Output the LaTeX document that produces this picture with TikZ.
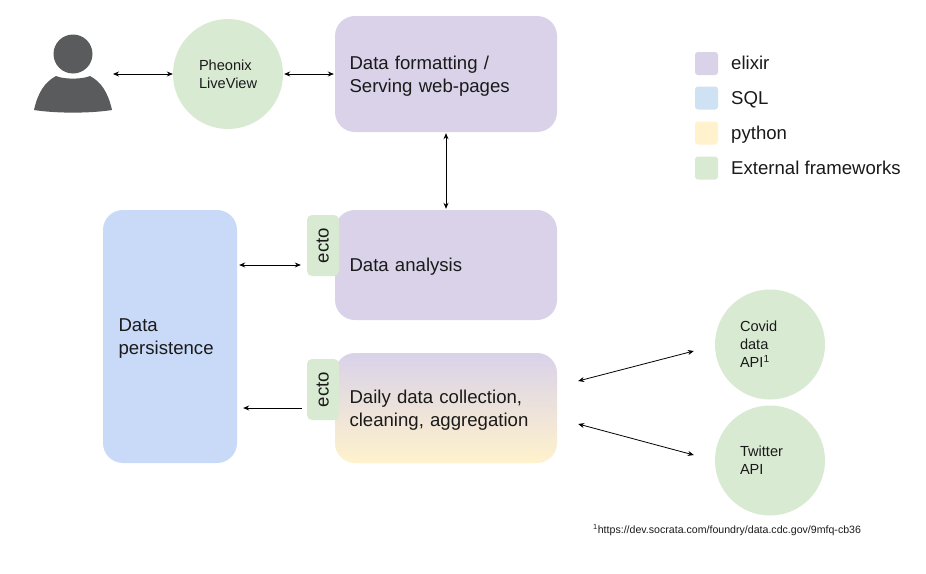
\documentclass[tikz,border=0pt]{standalone}
\usepackage{fontspec}
\setmainfont{Liberation Sans}
\usetikzlibrary{arrows.meta}
\definecolor{elixirc}{HTML}{D9D2E9}
\definecolor{sqlc}{HTML}{C9DAF8}
\definecolor{sqllegend}{HTML}{CFE2F3}
\definecolor{pyc}{HTML}{FFF2CC}
\definecolor{extc}{HTML}{D9EAD3}
\definecolor{personc}{HTML}{595B5C}
\definecolor{txtc}{HTML}{1A1A1A}
\tikzset{
  x=1pt,y=-1pt,
  bigbox/.style={rounded corners=20pt,minimum width=222pt,inner xsep=14.5pt,inner ysep=0pt,
    text width=193pt,align=left,font=\fontsize{18.6}{23}\selectfont,text=txtc,
    execute at begin node=\rule{0pt}{17.5pt}},
  dbbox/.style={rounded corners=20pt,fill=sqlc,minimum width=134pt,minimum height=253pt,inner xsep=15.5pt,inner ysep=0pt,
    text width=103pt,align=left,font=\fontsize{18.6}{23}\selectfont,text=txtc,
    execute at begin node=\rule{0pt}{17.5pt}},
  ectobox/.style={rounded corners=5pt,fill=extc,rotate=90,minimum width=61pt,minimum height=32pt,inner sep=0pt,
    text height=14pt,text depth=3pt,font=\fontsize{18.6}{20}\selectfont,text=txtc},
  circ/.style={circle,fill=extc,minimum size=110pt,inner sep=0pt,align=left,
    font=\fontsize{14.6}{18}\selectfont,text=txtc},
  swatch/.style={rounded corners=3pt,minimum size=23pt,inner sep=0pt},
  legendtxt/.style={anchor=west,inner sep=0pt,text height=13.5pt,text depth=3.5pt,font=\fontsize{18.6}{22}\selectfont,text=txtc},
  conn/.style={black,line width=0.8pt,{Stealth[length=6pt,width=5pt]}-{Stealth[length=6pt,width=5pt]}},
  connone/.style={black,line width=0.8pt,-{Stealth[length=6pt,width=5pt]}},
}
\begin{document}
\begin{tikzpicture}
\useasboundingbox (0,0) rectangle (926,573);
\fill[white] (0,0) rectangle (926,573);
% person icon
\fill[personc] (73,54) circle (19.5);
\fill[personc] (34,110) .. controls (38,92) and (45,82) .. (56,76)
  .. controls (64,79.5) and (82,79.5) .. (90,76)
  .. controls (101,82) and (108,92) .. (112,110)
  .. controls (90,113.5) and (56,113.5) .. (34,110) -- cycle;
\coordinate (user) at (113,74);
% nodes
\node[circ,text width=58pt] (lv) at (228,74) {Pheonix\\LiveView};
\node[bigbox,fill=elixirc,minimum height=116pt] (fmt) at (446,74) {Data formatting /\\Serving web-pages};
\node[bigbox,fill=elixirc,minimum height=110pt] (ana) at (446,265) {Data analysis};
\node[bigbox,top color=elixirc,bottom color=pyc,minimum height=110pt] (daily) at (446,408) {Daily data collection,\\cleaning, aggregation};
\node[dbbox] (db) at (170,336.5) {Data\\persistence};
\node[ectobox] (ectoa) at (323,245.5) {ecto};
\node[ectobox] (ectob) at (323,389.5) {ecto};
\node[circ,text width=60pt] (covid) at (770,344.5) {Covid\\data\\API\textsuperscript{1}};
\node[circ,text width=60pt] (tw) at (770,460.5) {Twitter\\API};
% legend
\node[swatch,fill=elixirc] (s1) at (706.5,63.5) {};
\node[swatch,fill=sqllegend] (s2) at (706.5,98) {};
\node[swatch,fill=pyc] (s3) at (706.5,133) {};
\node[swatch,fill=extc] (s4) at (706.5,168) {};
\node[legendtxt] (l1) at (731,64) {elixir};
\node[legendtxt] (l2) at (731,99) {SQL};
\node[legendtxt] (l3) at (731,134) {python};
\node[legendtxt] (l4) at (731,169) {External frameworks};
\node[anchor=west,inner sep=0pt,font=\fontsize{10.6}{12}\selectfont,text=txtc] (fn) at (593,530.5) {\textsuperscript{1}https://dev.socrata.com/foundry/data.cdc.gov/9mfq-cb36};
% free ends
\coordinate (da) at ([shift={(21,-27)}]daily.east);
\coordinate (db2) at ([shift={(21,16)}]daily.east);
\coordinate (ca) at ([shift={(-21,6.5)}]covid.west);
\coordinate (ta) at ([shift={(-21,-5.5)}]tw.west);
% connectors
\draw[conn] (user) -- (lv.west);
\draw[conn,shorten >=1pt,shorten <=1pt] (lv.east) -- (fmt.west);
\draw[conn,shorten >=1pt,shorten <=1pt] (fmt.south) -- (ana.north);
\draw[conn,shorten <=2pt,shorten >=6pt] (db.east |- ana.center) -- (ectoa.north |- ana.center);
\draw[connone,shorten <=5pt,shorten >=6pt] (ectob.north |- daily.center) -- (db.east |- daily.center);
\draw[conn] (da) -- (ca);
\draw[conn] (db2) -- (ta);
\end{tikzpicture}
\end{document}
